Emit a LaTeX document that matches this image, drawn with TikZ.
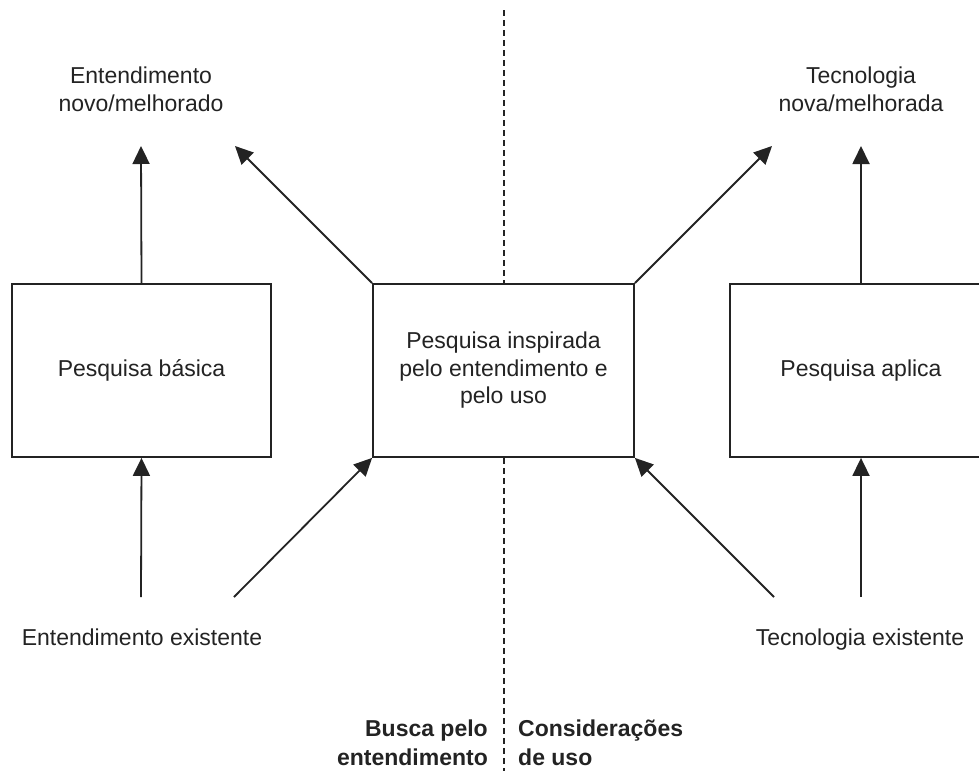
\documentclass[tikz,border=0pt]{standalone}
\usepackage{fontspec}
\setmainfont{Liberation Sans}
\usetikzlibrary{arrows.meta}
\definecolor{ink}{RGB}{35,35,35}
\begin{document}
\begin{tikzpicture}[x=1pt,y=-1pt,
  box/.style={draw=ink,line width=1.8pt,fill=white,minimum width=259pt,minimum height=173pt,inner sep=0pt,align=center,text=ink,font=\fontsize{23pt}{27.5pt}\selectfont},
  lbl/.style={text=ink,align=center,inner sep=0pt,font=\fontsize{23pt}{27.5pt}\selectfont},
  blbl/.style={text=ink,inner sep=0pt,font=\bfseries\fontsize{23pt}{28.5pt}\selectfont},
  arr/.style={draw=ink,line width=1.8pt,-{Triangle[length=18pt,width=17pt]}},
  dline/.style={draw=ink,line width=1.3pt,dash pattern=on 6pt off 4pt}]
\useasboundingbox (0,0) rectangle (979,771);
\clip (0,0) rectangle (979,771);
% boxes
\node[box] (bL) at (141.5,370.5) {Pesquisa básica};
\node[box,minimum width=261pt] (bC) at (503.5,370.5) {Pesquisa inspirada\\pelo entendimento e\\pelo uso};
\node[box,minimum width=262pt] (bR) at (861,370.5) {Pesquisa aplica};
% labels
\node[lbl,anchor=base] (tL) at (141,111) {Entendimento\\novo/melhorado};
\node[lbl,anchor=base] (tR) at (861,111) {Tecnologia\\nova/melhorada};
\node[lbl,anchor=base] (eL) at (142,645) {Entendimento existente};
\node[lbl,anchor=base] (eR) at (860,645) {Tecnologia existente};
\node[blbl,anchor=base east,align=right] (busca) at (488,765) {Busca pelo\\entendimento};
\node[blbl,anchor=base west,align=left] (cons) at (518,765) {Considerações\\de uso};
% coordinates
\coordinate (aLtop) at (141,146);
\coordinate (aLdiag) at (235,146);
\coordinate (aRtop) at (861,146);
\coordinate (aRdiag) at (772,146);
\coordinate (sL) at (141,597);
\coordinate (sLd) at (234,597);
\coordinate (sR) at (861,597);
\coordinate (sRd) at (774,597);
\coordinate (dTop) at (504,10);
\coordinate (dBot) at (504,771);
% dashed divider
\draw[dline] (dTop) -- (dTop |- bC.north);
\draw[dline] (dBot |- bC.south) -- (dBot);
% arrows
\draw[arr] (bL.north) -- (aLtop);
\draw[arr] (bC.north west) -- (aLdiag);
\draw[arr] (bC.north east) -- (aRdiag);
\draw[arr] (bR.north) -- (aRtop);
\draw[arr] (sL) -- (bL.south);
\draw[arr] (sLd) -- (bC.south west);
\draw[arr] (sRd) -- (bC.south east);
\draw[arr] (sR) -- (bR.south);
\end{tikzpicture}
\end{document}
